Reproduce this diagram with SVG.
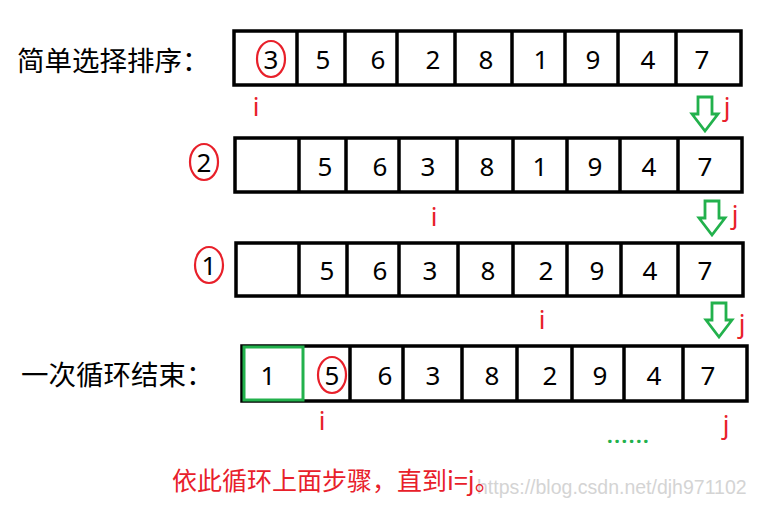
<svg xmlns="http://www.w3.org/2000/svg" width="771" height="505" viewBox="0 0 771 505">
<style>
.lbl{font-family:"Noto Sans CJK SC","Noto Sans",sans-serif;font-size:27.5px;fill:#000}
.num{font-family:"Noto Sans","Open Sans",sans-serif;font-size:26px;fill:#000;text-anchor:middle}
.cell{fill:#fff;stroke:#000;stroke-width:3.5}
.red{font-family:"Noto Sans","Open Sans",sans-serif;font-size:26px;fill:#e8202a;text-anchor:middle}
.circ{fill:none;stroke:#e8202a;stroke-width:2.2}
.arr{fill:#fff;stroke:#22b14c;stroke-width:2.8;stroke-linejoin:miter}
</style>
<defs>
<path id="darr" d="M-7,0 H7 V17 H13 L0,34 L-13,17 H-7 Z"/>
</defs>
<rect width="771" height="505" fill="#fff"/>

<g id="row1">
<text class="lbl" x="17" y="71">简单选择排序：</text>
<rect class="cell" x="234" y="31" width="507" height="54"/>
<path stroke="#000" stroke-width="3.5" d="M297,31V85M345,31V85M397,31V85M455,31V85M512,31V85M565,31V85M618,31V85M676,31V85"/>
<text class="num" x="271" y="69">3</text>
<ellipse class="circ" cx="271" cy="59" rx="14" ry="18"/>
<text class="num" x="323" y="69">5</text>
<text class="num" x="378" y="69">6</text>
<text class="num" x="433" y="69">2</text>
<text class="num" x="486" y="69">8</text>
<text class="num" x="541" y="69">1</text>
<text class="num" x="593" y="69">9</text>
<text class="num" x="648" y="69">4</text>
<text class="num" x="702" y="69">7</text>
<text class="red" x="256" y="116">i</text>
<text class="red" x="727" y="116">j</text>
</g>

<g id="row2">
<text class="num" x="204" y="172">2</text>
<ellipse class="circ" cx="204" cy="162" rx="14" ry="18"/>
<rect class="cell" x="235" y="138" width="507" height="54"/>
<path stroke="#000" stroke-width="3.5" d="M299,138V192M346,138V192M399,138V192M457,138V192M513,138V192M567,138V192M620,138V192M678,138V192"/>
<text class="num" x="325" y="176">5</text>
<text class="num" x="380" y="176">6</text>
<text class="num" x="428" y="176">3</text>
<text class="num" x="487" y="176">8</text>
<text class="num" x="540" y="176">1</text>
<text class="num" x="595" y="176">9</text>
<text class="num" x="649" y="176">4</text>
<text class="num" x="705" y="176">7</text>
<text class="red" x="434" y="226">i</text>
<text class="red" x="735" y="224">j</text>
</g>

<g id="row3">
<text class="num" x="209" y="275">1</text>
<ellipse class="circ" cx="209" cy="265" rx="14" ry="18"/>
<rect class="cell" x="236" y="243" width="507" height="53"/>
<path stroke="#000" stroke-width="3.5" d="M299,243V296M347,243V296M399,243V296M458,243V296M513,243V296M567,243V296M621,243V296M678,243V296"/>
<text class="num" x="327" y="280">5</text>
<text class="num" x="380" y="280">6</text>
<text class="num" x="430" y="280">3</text>
<text class="num" x="488" y="280">8</text>
<text class="num" x="546" y="280">2</text>
<text class="num" x="597" y="280">9</text>
<text class="num" x="650" y="280">4</text>
<text class="num" x="705" y="280">7</text>
<text class="red" x="542" y="329">i</text>
<text class="red" x="742" y="333">j</text>
</g>

<g id="row4">
<text class="lbl" x="21" y="385">一次循环结束：</text>
<rect class="cell" x="242" y="346" width="505" height="55"/>
<path stroke="#000" stroke-width="3.5" d="M350,346V401M403,346V401M462,346V401M517,346V401M572,346V401M624,346V401M683,346V401"/>
<rect x="244" y="347" width="59" height="53" fill="#fff" stroke="#22b14c" stroke-width="3"/>
<text class="num" x="268" y="385">1</text>
<text class="num" x="332" y="385">5</text>
<ellipse class="circ" cx="332" cy="375" rx="14" ry="18"/>
<text class="num" x="385" y="385">6</text>
<text class="num" x="433" y="385">3</text>
<text class="num" x="492" y="385">8</text>
<text class="num" x="550" y="385">2</text>
<text class="num" x="600" y="385">9</text>
<text class="num" x="654" y="385">4</text>
<text class="num" x="708" y="385">7</text>
<text class="red" x="322" y="430">i</text>
<text class="red" x="726" y="434">j</text>
<text x="607" y="443" font-family="Noto Sans,sans-serif" font-size="20" font-weight="bold" fill="#22b14c" letter-spacing="1.6">......</text>
</g>

<g id="pointers">
<use href="#darr" class="arr" transform="translate(705,97)"/>
<use href="#darr" class="arr" transform="translate(712,201)"/>
<use href="#darr" class="arr" transform="translate(719,303)"/>
</g>

<g id="footer">
<text x="477" y="494" font-family="Liberation Sans,sans-serif" font-size="19.5" fill="#d4d4d4">https://blog.csdn.net/djh971102</text>
<text x="172" y="490" font-family="Noto Sans CJK SC,sans-serif" font-size="25" fill="#e8202a">依此循环上面步骤，直到i=j。</text>
</g>
</svg>
